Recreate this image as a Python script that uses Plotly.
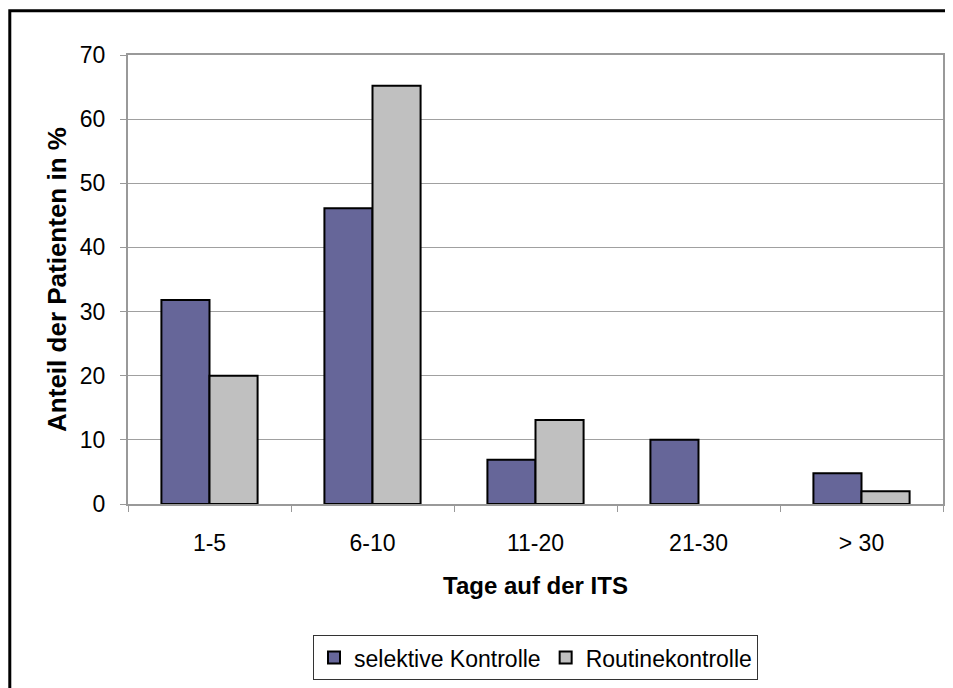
import plotly.graph_objects as go

categories = ["1-5", "6-10", "11-20", "21-30", "> 30"]
selektive = [31.8, 46.1, 6.9, 10.0, 4.8]
routine = [20.0, 65.2, 13.1, 0.0, 2.0]
y_ticks = [0, 10, 20, 30, 40, 50, 60, 70]

FONT = "Liberation Sans, Arial, sans-serif"

W, H = 945, 680          # page adds an 8px body margin
ML, MR, MT, MB = 120, 8, 47, 181
PW = W - ML - MR
PH = H - MT - MB


def outline(vals):
    # no visible outline for empty (zero) bars
    return [2 if v > 0 else 0 for v in vals]


fig = go.Figure()
fig.add_trace(go.Bar(x=categories, y=selektive, name="selektive Kontrolle",
                     marker=dict(color="#666699", line=dict(color="black", width=outline(selektive)))))
fig.add_trace(go.Bar(x=categories, y=routine, name="Routinekontrolle",
                     marker=dict(color="#C0C0C0", line=dict(color="black", width=outline(routine)))))

fig.update_layout(
    width=W, height=H,
    margin=dict(l=ML, r=MR, t=MT, b=MB),
    paper_bgcolor="white", plot_bgcolor="white",
    barmode="group", bargap=0.41, bargroupgap=0,
    font=dict(family=FONT, size=23, color="black"),
    showlegend=True,
    legend=dict(orientation="h", x=0.5, xanchor="center", y=-(631 - MT - PH) / PH, yanchor="top",
                bordercolor="#333333", borderwidth=1, font=dict(size=23),
                itemwidth=30, tracegroupgap=0),
    xaxis=dict(
        showline=True, linecolor="#999999", linewidth=2, mirror=True,
        ticks="outside", tickson="boundaries", ticklen=6, tickcolor="#999999",
        tickfont=dict(size=23), ticklabelstandoff=17,
        title=dict(text="<b>Tage auf der ITS</b>", font=dict(size=24), standoff=23),
    ),
    yaxis=dict(
        range=[0, 70], tickvals=y_ticks, showgrid=True, gridcolor="#A0A0A0", gridwidth=1,
        showline=True, linecolor="#999999", linewidth=2, mirror=True,
        ticks="outside", ticklen=6, tickcolor="#999999",
        tickfont=dict(size=23), ticklabelstandoff=10,
        title=dict(text="<b>Anteil der Patienten in %</b>", font=dict(size=26), standoff=6),
        zeroline=False,
    ),
)

# outer frame (cropped at right/bottom in the reference)
fig.add_shape(type="rect", xref="paper", yref="paper",
              x0=-(ML - 1.5) / PW, x1=1.2, y0=-1.0, y1=1 + (MT - 2.5) / PH,
              line=dict(color="black", width=3), fillcolor="rgba(0,0,0,0)", layer="below")

fig.write_html("out.html")
